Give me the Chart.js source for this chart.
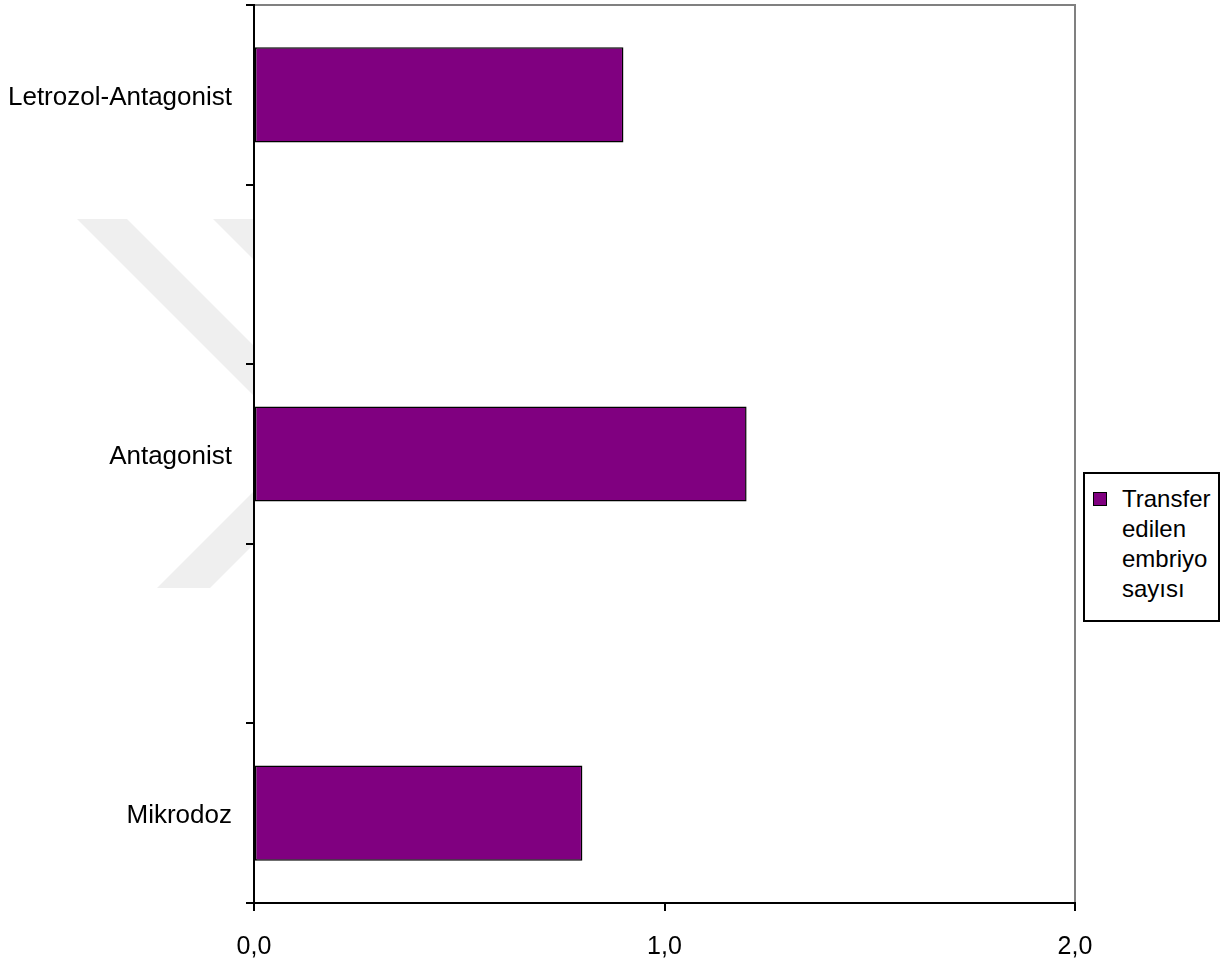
<!DOCTYPE html>
<html>
<head>
<meta charset="utf-8">
<script src="https://cdn.jsdelivr.net/npm/chart.js@4"></script>
<style>
  body { margin: 0; background: #fff; }
  #wrap { position: relative; width: 1232px; height: 965px; }
  #legendBox {
    position: absolute; left: 1083px; top: 472px; width: 133px; height: 146px;
    border: 2px solid #000; background: #fff;
    font-family: 'Liberation Sans', Arial, sans-serif; font-size: 24px; color: #000;
  }
  #legendBox .swatch {
    position: absolute; left: 8px; top: 18px; width: 12px; height: 12px;
    border: 1px solid #000;
  }
  #legendBox .text {
    position: absolute; left: 37px; top: 10px; width: 96px; line-height: 30px;
  }
</style>
</head>
<body>
<div id="wrap">
  <canvas id="embryoChart" width="1232" height="965"></canvas>
  <div id="legendBox"><div class="swatch"></div><div class="text"></div></div>
</div>
<script>
// groups (blank slots keep the gaps between bars)
const categories = ['Letrozol-Antagonist', '', 'Antagonist', '', 'Mikrodoz'];
const embryoCounts = [0.9, null, 1.2, null, 0.8];
const seriesLabel = 'Transfer edilen embriyo sayısı';
const xMin = 0, xMax = 2, xStep = 1;

const barColor = '#800080';

Chart.defaults.font.family = "'Liberation Sans', Arial, sans-serif";
Chart.defaults.font.size = 25;
Chart.defaults.color = '#000';

// faint background logo + white plot area with grey top/right frame
const plotFrame = {
    id: 'plotFrame',
    beforeDraw(chart) {
        const c = chart.ctx;
        const a = chart.chartArea;
        c.save();
        c.fillStyle = '#efefef';
        const shapes = [
            [[77, 219], [127, 219], [300, 392], [300, 442]],
            [[213, 219], [263, 219], [300, 256], [300, 306]],
            [[157, 588], [210, 588], [300, 498], [300, 445]]
        ];
        shapes.forEach(s => {
            c.beginPath();
            c.moveTo(s[0][0], s[0][1]);
            s.slice(1).forEach(p => c.lineTo(p[0], p[1]));
            c.closePath();
            c.fill();
        });
        c.fillStyle = '#fff';
        c.fillRect(a.left, a.top, a.right - a.left, a.bottom - a.top);
        c.strokeStyle = '#808080';
        c.lineWidth = 2;
        c.beginPath();
        c.moveTo(a.left, a.top);
        c.lineTo(a.right, a.top);
        c.lineTo(a.right, a.bottom);
        c.stroke();
        c.restore();
    }
};

const ctx = document.getElementById('embryoChart').getContext('2d');
const embryoChart = new Chart(ctx, {
    type: 'bar',
    data: {
        labels: categories,
        datasets: [{
            label: seriesLabel,
            data: embryoCounts,
            backgroundColor: barColor,
            borderColor: '#000',
            borderWidth: 1.5,
            borderSkipped: false,
            categoryPercentage: 1,
            barPercentage: 0.53
        }]
    },
    options: {
        indexAxis: 'y',
        responsive: false,
        animation: false,
        layout: { padding: { top: 5, right: 157, bottom: 0, left: 0 } },
        plugins: {
            legend: { display: false },
            tooltip: { enabled: false }
        },
        scales: {
            y: {
                position: 'left',
                afterFit: (axis) => {
                    axis.width = 254;
                    axis.paddingTop = 0;
                    axis.paddingBottom = 0;
                },
                grid: {
                    offset: true,
                    drawOnChartArea: false,
                    drawTicks: true,
                    tickLength: 8,
                    color: '#000',
                    lineWidth: 2
                },
                border: { display: true, color: '#000', width: 2 },
                ticks: { padding: 14, autoSkip: false, labelOffset: 3, font: { size: 26 } }
            },
            x: {
                position: 'bottom',
                min: xMin,
                max: xMax,
                afterFit: (axis) => { axis.height = 62; },
                grid: {
                    drawOnChartArea: false,
                    drawTicks: true,
                    tickLength: 8,
                    color: '#000',
                    lineWidth: 2
                },
                border: { display: true, color: '#000', width: 2 },
                ticks: {
                    stepSize: xStep,
                    padding: 21,
                    callback: (v) => v.toFixed(1).replace('.', ',')
                }
            }
        }
    },
    plugins: [plotFrame]
});

// legend entry
document.querySelector('#legendBox .swatch').style.background = barColor;
document.querySelector('#legendBox .text').textContent = seriesLabel;
</script>
</body>
</html>
